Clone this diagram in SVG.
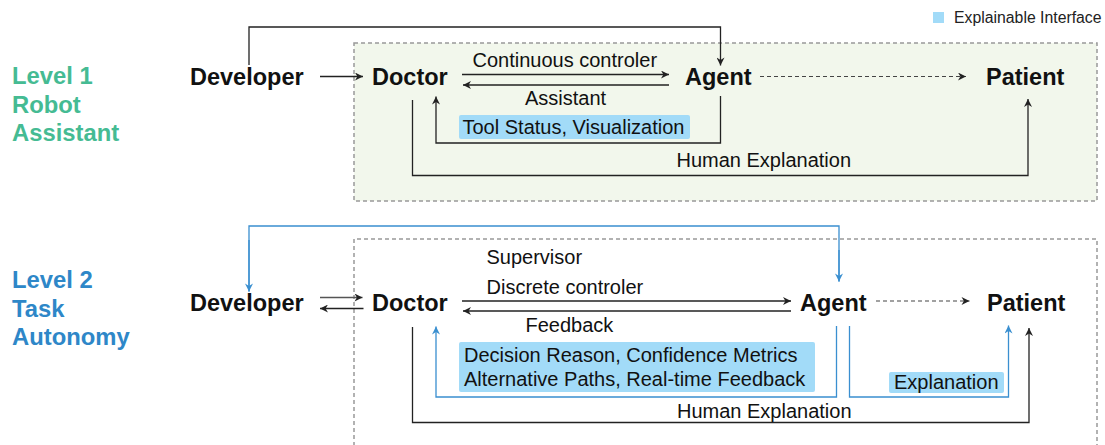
<svg xmlns="http://www.w3.org/2000/svg" width="1105" height="445" viewBox="0 0 1105 445">
<style>
.node{font-family:"Liberation Sans",Arial,sans-serif;font-weight:bold;font-size:23.5px;fill:#111}
.lbl{font-family:"Liberation Sans",Arial,sans-serif;font-size:20px;fill:#111}
.leg{font-family:"Liberation Sans",Arial,sans-serif;font-size:15.8px;fill:#222}
.lv1{font-family:"Liberation Sans",Arial,sans-serif;font-weight:bold;font-size:23.8px;fill:#45bb93}
.lv2{font-family:"Liberation Sans",Arial,sans-serif;font-weight:bold;font-size:23.8px;fill:#2e87c8}
.frame{stroke:#999;stroke-width:1.5;stroke-dasharray:4 3}
.hl{fill:#a2dbf8}
.k{fill:none;stroke:#222;stroke-width:1.3;marker-end:url(#ak)}
.kd{fill:none;stroke:#444;stroke-width:1.1;stroke-dasharray:4 3;marker-end:url(#ak)}
.b{fill:none;stroke:#3a8fd0;stroke-width:1.3;marker-end:url(#ab)}
.bn{fill:none;stroke:#3a8fd0;stroke-width:1.3}
</style>
<defs>
<marker id="ak" viewBox="0 0 10 10" refX="10" refY="5" markerWidth="9" markerHeight="8" markerUnits="userSpaceOnUse" orient="auto"><path d="M0,0 L10,5 L0,10 L3,5 z" fill="#222"/></marker>
<marker id="ab" viewBox="0 0 10 10" refX="10" refY="5" markerWidth="9" markerHeight="8" markerUnits="userSpaceOnUse" orient="auto"><path d="M0,0 L10,5 L0,10 L3,5 z" fill="#3a8fd0"/></marker>
</defs>
<rect width="1105" height="445" fill="#fff"/>
<g id="legend">
<rect x="933" y="12" width="11" height="11" class="hl"/>
<text x="954" y="23" class="leg">Explainable Interface</text>
</g>
<g id="level1-frame">
<rect x="354" y="43" width="743" height="158" fill="#f2f7ec" class="frame"/>
</g>
<g id="level2-frame">
<path d="M354,446 V239 H1097 V446" fill="none" class="frame"/>
</g>
<g id="level1-label">
<text x="12" y="84" class="lv1">Level 1</text>
<text x="12" y="112.5" class="lv1">Robot</text>
<text x="12" y="141" class="lv1">Assistant</text>
</g>
<g id="level2-label">
<text x="12" y="288" class="lv2">Level 2</text>
<text x="12" y="316.5" class="lv2">Task</text>
<text x="12" y="345" class="lv2">Autonomy</text>
</g>
<g id="l1-developer"><text x="190" y="85" class="node">Developer</text></g>
<g id="l1-doctor"><text x="372" y="85" class="node">Doctor</text></g>
<g id="l1-agent"><text x="685" y="85" class="node">Agent</text></g>
<g id="l1-patient"><text x="986" y="85" class="node">Patient</text></g>
<g id="l2-developer"><text x="190" y="311" class="node">Developer</text></g>
<g id="l2-doctor"><text x="372" y="311" class="node">Doctor</text></g>
<g id="l2-agent"><text x="800" y="311" class="node">Agent</text></g>
<g id="l2-patient"><text x="987" y="311" class="node">Patient</text></g>
<g id="l1-interface">
<rect x="459" y="115" width="231" height="24" rx="2" class="hl"/>
<text x="462.5" y="133.5" class="lbl">Tool Status, Visualization</text>
</g>
<g id="l2-interface">
<rect x="459" y="342" width="356" height="50" rx="2" class="hl"/>
<text x="464" y="362" class="lbl">Decision Reason, Confidence Metrics</text>
<text x="464" y="385.5" class="lbl">Alternative Paths, Real-time Feedback</text>
<rect x="889" y="372" width="115" height="21" rx="2" class="hl"/>
<text x="894" y="389" class="lbl">Explanation</text>
</g>
<g id="connectors">
<path d="M320,76.5 H363" class="k"/>
<path d="M249,65 V27 H720.5 V65.5" class="k"/>
<path d="M462,74.5 H669" class="k"/>
<path d="M669,85 H463" class="k"/>
<text x="472.5" y="66.5" class="lbl">Continuous controler</text>
<text x="525" y="105" class="lbl">Assistant</text>
<path d="M720.5,96 V143 H436 V96.5" class="k"/>
<path d="M412.5,100 V175.5 H1028 V99" class="k"/>
<text x="676.5" y="167" class="lbl">Human Explanation</text>
<path d="M760,76.5 H966" class="kd"/>

<path d="M320,297.5 H362.5" class="k" style="stroke:#555"/>
<path d="M363.5,308.5 H320" class="k"/>
<path d="M839,281.5 V226 H249 V291.5" class="bn"/>
<path d="M249,240 V291.5" class="b"/>
<path d="M839,250 V281.5" class="b"/>
<text x="486.5" y="263.5" class="lbl">Supervisor</text>
<text x="486.5" y="293.5" class="lbl">Discrete controler</text>
<path d="M462,301 H791" class="k"/>
<path d="M791,311 H463" class="k"/>
<text x="525.5" y="332" class="lbl">Feedback</text>
<path d="M836.5,326 V397 H436 V326.5" class="b"/>
<path d="M849.5,326 V397 H1008.5 V325.5" class="b"/>
<path d="M412.5,327 V422.5 H1029 V328" class="k"/>
<text x="677" y="417.5" class="lbl">Human Explanation</text>
<path d="M876,301 H969.5" class="kd"/>
</g>
</svg>
